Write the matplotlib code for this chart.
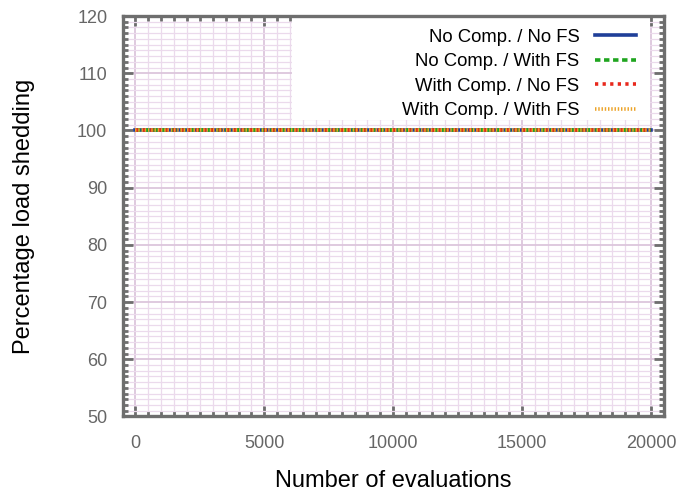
import matplotlib
matplotlib.use('Agg')
import matplotlib.pyplot as plt
from matplotlib.patches import Rectangle
from matplotlib.ticker import MultipleLocator

plt.rcParams['font.family'] = ['Liberation Sans', 'DejaVu Sans']

# data: all four variants stay at 100 % over the whole run
evaluations = [0, 20000]
no_comp_no_fs = [100, 100]
no_comp_with_fs = [100, 100]
with_comp_no_fs = [100, 100]
with_comp_with_fs = [100, 100]
labels = ['No Comp. / No FS', 'No Comp. / With FS',
          'With Comp. / No FS', 'With Comp. / With FS']

fig = plt.figure(figsize=(6.83, 4.93), dpi=100)
ax = fig.add_axes([0.1794, 0.1552, 0.7928, 0.8123])

lw = 2.6
ax.plot(evaluations, no_comp_no_fs, color='#1f3f98', lw=lw, label=labels[0])
ax.plot(evaluations, no_comp_with_fs, color='#1fa51f', lw=lw,
        dashes=(1.5, 1.0), label=labels[1])
ax.plot(evaluations, with_comp_no_fs, color='#e8281c', lw=lw,
        dashes=(0.9, 1.2), label=labels[2])
ax.plot(evaluations, with_comp_with_fs, color='#eca42a', lw=lw,
        dashes=(0.4, 0.5), label=labels[3])

ax.set_xlim(-500, 20500)
ax.set_ylim(50, 120)
ax.xaxis.set_major_locator(MultipleLocator(5000))
ax.xaxis.set_minor_locator(MultipleLocator(500))
ax.yaxis.set_major_locator(MultipleLocator(10))
ax.yaxis.set_minor_locator(MultipleLocator(1))

# gnuplot-like grid
ax.set_axisbelow(True)
ax.grid(which='major', color='#dcc6dc', lw=1.3)
ax.grid(which='minor', color='#ebdaec', lw=0.9)

# white key box covering the grid
ax.add_patch(Rectangle((0.313, 0.74), 0.661, 0.26, transform=ax.transAxes,
                       facecolor='white', edgecolor='none', zorder=1))

for s in ax.spines.values():
    s.set_color('#6e6e6e')
    s.set_linewidth(2.4)
ax.tick_params(which='both', direction='in', top=True, right=True,
               color='#6e6e6e', width=2.0, labelsize=13, labelcolor='#666666')
ax.tick_params(which='major', length=7)
ax.tick_params(which='minor', length=3.5)
ax.tick_params(axis='x', pad=13)
ax.tick_params(axis='y', pad=11)

ax.set_xlabel('Number of evaluations', fontsize=17, labelpad=13)
ax.set_ylabel('Percentage load shedding', fontsize=17, labelpad=30)

ax.legend(loc='upper right', bbox_to_anchor=(0.948, 0.968), frameon=False,
          markerfirst=False, fontsize=13.3, handlelength=2.2,
          handletextpad=0.85, labelspacing=0.4, borderpad=0, borderaxespad=0)

fig.savefig('out.png', dpi=100)
